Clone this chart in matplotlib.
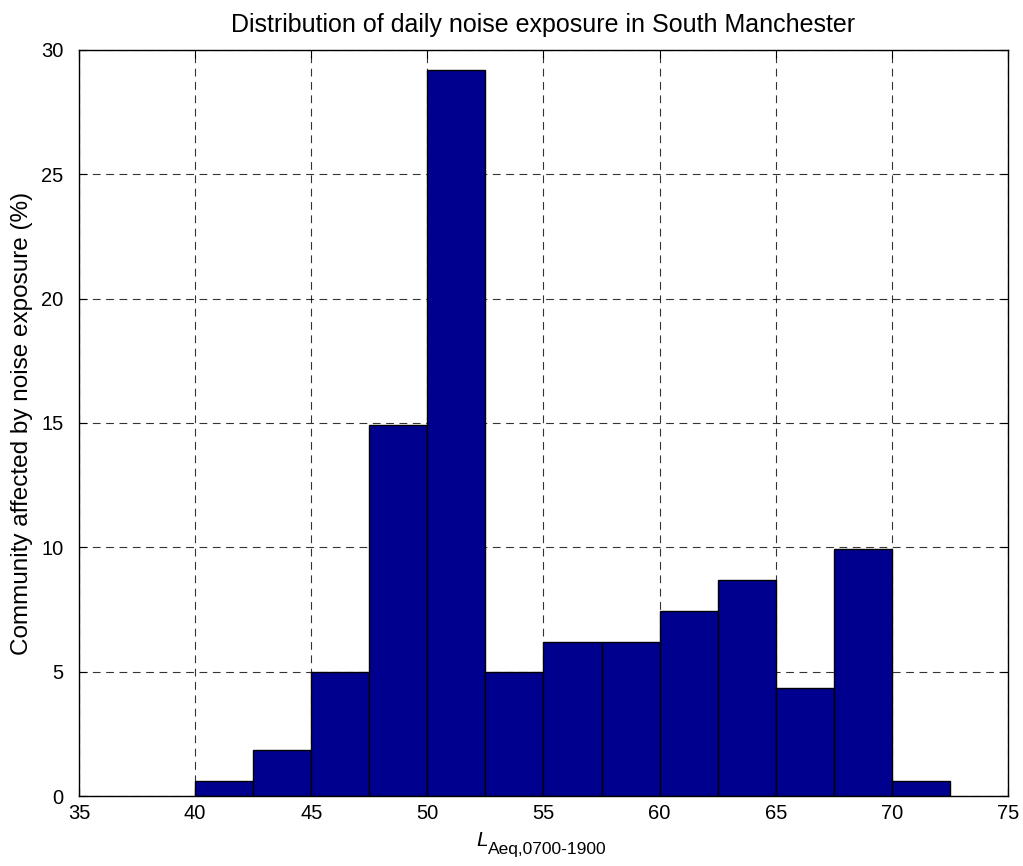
import matplotlib
matplotlib.use('Agg')
import matplotlib.pyplot as plt
import numpy as np

plt.rcParams['font.family'] = ['Liberation Sans', 'DejaVu Sans']

# Histogram bins (dB) and percentage of community in each bin
bin_edges = [40, 42.5, 45, 47.5, 50, 52.5, 55, 57.5, 60, 62.5, 65, 67.5, 70, 72.5]
percent = [0.62, 1.86, 4.97, 14.91, 29.19, 4.97, 6.21, 6.21, 7.45, 8.70, 4.35, 9.94, 0.62]

xticks = [35, 40, 45, 50, 55, 60, 65, 70, 75]
yticks = [0, 5, 10, 15, 20, 25, 30]

fig = plt.figure(figsize=(10.23, 8.66), dpi=100)
ax = fig.add_axes([0.0772, 0.0808, 0.9081, 0.8615])

left = np.array(bin_edges[:-1])
widths = np.diff(bin_edges)
ax.bar(left, percent, width=widths, align='edge', color='#00008F',
       edgecolor='black', linewidth=1.0, zorder=3)

ax.set_xlim(35, 75)
ax.set_ylim(0, 30)
ax.set_xticks(xticks)
ax.set_yticks(yticks)
ax.tick_params(direction='in', top=True, right=True, labelsize=14.5,
               length=6, width=0.8)
ax.tick_params(axis='x', pad=6)
ax.tick_params(axis='y', pad=11)
for s in ax.spines.values():
    s.set_linewidth(1.0)
    s.set_zorder(4)
ax.grid(True, color='black', linestyle=(0, (7, 5)), linewidth=0.8, alpha=0.8, zorder=1)

ax.set_title('Distribution of daily noise exposure in South Manchester',
             fontsize=18, pad=13)
ax.set_ylabel('Community affected by noise exposure (%)', fontsize=17.5, labelpad=6)

# x label: italic L with subscript
ax.text(0.4275, -0.047, 'L', transform=ax.transAxes, fontsize=15, style='italic',
        ha='left', va='top')
ax.text(0.4405, -0.062, 'Aeq,0700-1900', transform=ax.transAxes, fontsize=12.5,
        ha='left', va='top')

fig.savefig('out.png', dpi=100)
